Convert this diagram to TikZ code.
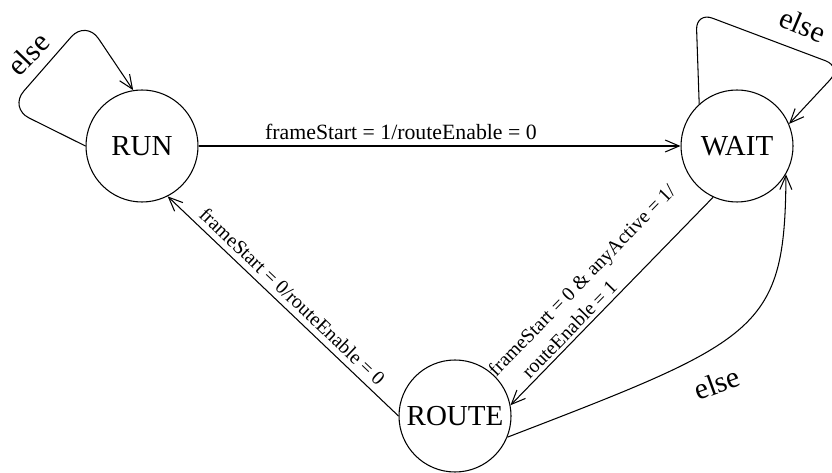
\documentclass[tikz,border=0pt]{standalone}
\usepackage{fontspec}
\setmainfont{Liberation Serif}
\usetikzlibrary{arrows.meta}
\tikzset{
  state/.style={circle, draw, line width=0.6pt, minimum size=2.24cm, inner sep=0pt,
    font=\fontsize{16.5}{19}\selectfont},
  trans/.style={line width=0.6pt, >={Straight Barb[length=2.8mm,width=2.4mm]}},
  cond/.style={font=\fontsize{12.4}{14.5}\selectfont},
  slopecond/.style={sloped, font=\fontsize{11.3}{14.5}\selectfont},
  elselabel/.style={font=\fontsize{17}{20}\selectfont}
}

\begin{document}
\begin{tikzpicture}
\useasboundingbox (0,0) rectangle (16.64,9.44);

\node[state] (run)   at (2.84,6.52) {RUN};
\node[state] (wait)  at (14.74,6.52) {WAIT};
\node[state] (route) at (9.10,1.12) {ROUTE};

% transitions
\draw[trans,->] (run) -- node[cond, pos=0.42, above] {frameStart = 1/routeEnable = 0} (wait);
\draw[trans,<-] (run.-63) -- node[slopecond, pos=0.5, above] {frameStart = 0/routeEnable = 0} (route.180);
\draw[trans,<-] (route.11) --
  node[slopecond, pos=0.48, above, inner sep=2pt, align=left]
  {frameStart = 0 \& anyActive = 1/\\\hspace*{1.1em}routeEnable = 1} (wait.-115);
\draw[trans,->] (route.-22) .. controls (15.2,2.64) and (15.7,2.84) .. (wait.-30);
\node[elselabel, rotate=20] (elseroute) at (14.34,1.78) {else};

% self loops
\draw[trans,->, rounded corners=0.45cm] (run.180) -- (0.18,7.28) -- (1.72,9.04) -- (run.99);
\node[elselabel, rotate=46] (elserun) at (0.56,8.36) {else};
\draw[trans,->, rounded corners=0.35cm] (wait.132) -- (13.92,9.20) -- (16.84,8.10) -- (wait.23);
\node[elselabel, rotate=-23] (elsewait) at (16.06,8.94) {else};

\end{tikzpicture}
\end{document}
